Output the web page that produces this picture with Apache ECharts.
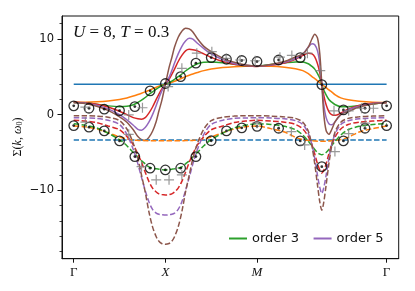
<!DOCTYPE html>
<html><head><meta charset="utf-8">
<script src="https://cdn.jsdelivr.net/npm/echarts@6/dist/echarts.min.js"></script>
<style>html,body{margin:0;padding:0;background:#fff}#c{width:415px;height:291px}</style>
</head><body><div id="c"></div>
<script>
// path coordinate along Γ→X→M→Γ (X=1, M=2, Γ=2+√2)
const kPath = [0, 0.125, 0.25, 0.375, 0.5, 0.58, 0.65, 0.70, 0.74, 0.78, 0.82, 0.86, 0.90, 0.93, 0.96, 1.0,
  1.04, 1.07, 1.10, 1.14, 1.18, 1.22, 1.26, 1.30, 1.35, 1.42, 1.50, 1.625, 1.75, 1.875, 2.0,
  2.15, 2.30, 2.42, 2.50, 2.56, 2.60, 2.63, 2.66, 2.685, 2.707, 2.729, 2.754, 2.784, 2.814, 2.854, 2.914, 2.994, 3.114, 3.264, 3.414];
const kEnds = [0, 3.414];
const kTicks = [0, 1, 2, 3.4142];
const kTickLabels = ['Γ', 'X', 'M', 'Γ'];
const yMajorTicks = [-10, 0, 10];
const yMinorTicks = [-18, -16, -14, -12, -8, -6, -4, -2, 2, 4, 6, 8, 12];

// order 1 (blue): constant
const re1 = [4.0, 4.0];
const im1 = [-3.35, -3.35];
// order 2 (orange)
const re2 = [1.6, 1.62, 1.68, 1.8, 2.0, 2.2, 2.45, 2.65, 2.82, 3.0, 3.2, 3.4, 3.6, 3.74, 3.87, 4.0,
  4.13, 4.26, 4.4, 4.6, 4.8, 5.0, 5.18, 5.35, 5.55, 5.8, 6.0, 6.2, 6.32, 6.38, 6.4,
  6.38, 6.25, 6.05, 5.8, 5.4, 5.0, 4.75, 4.45, 4.2, 4.0, 3.8, 3.55, 3.25, 3.0, 2.6, 2.2, 1.95, 1.75, 1.62, 1.6];
const im2 = [-1.5, -1.6, -1.9, -2.4, -2.95, -3.2, -3.35, -3.4, -3.42, -3.43, -3.44, -3.45, -3.45, -3.45, -3.45, -3.45,
  -3.45, -3.45, -3.45, -3.45, -3.44, -3.43, -3.42, -3.4, -3.35, -3.2, -2.95, -2.4, -1.9, -1.6, -1.5,
  -1.85, -2.3, -3.0, -3.3, -3.4, -3.45, -3.48, -3.5, -3.5, -3.5, -3.5, -3.5, -3.48, -3.45, -3.4, -3.3, -3.0, -2.3, -1.85, -1.5];
// order 3 (green)
const re3 = [1.6, 1.55, 1.35, 1.15, 1.05, 1.1, 1.3, 1.6, 1.9, 2.25, 2.65, 3.0, 3.35, 3.6, 3.8, 4.0,
  4.2, 4.4, 4.65, 5.0, 5.35, 5.75, 6.1, 6.4, 6.7, 6.9, 6.95, 6.85, 6.65, 6.45, 6.4,
  6.6, 6.8, 6.95, 6.95, 6.7, 6.35, 6.0, 5.4, 4.8, 4.0, 3.2, 2.6, 2.0, 1.65, 1.3, 1.05, 1.05, 1.2, 1.4, 1.6];
const im3 = [-1.2, -1.4, -1.75, -2.45, -3.3, -4.1, -5.0, -5.6, -6.1, -6.5, -6.9, -7.05, -7.15, -7.2, -7.25, -7.3,
  -7.25, -7.2, -7.15, -7.05, -6.9, -6.5, -6.1, -5.6, -5.0, -4.1, -3.3, -2.45, -1.75, -1.4, -1.2,
  -1.3, -1.55, -2.0, -2.7, -3.5, -4.1, -4.6, -5.0, -5.2, -5.3, -5.2, -5.0, -4.6, -4.1, -3.5, -2.7, -2.0, -1.55, -1.3, -1.2];
// order 4 (red)
const re4 = [1.65, 1.55, 1.35, 1.0, 0.45, 0.0, -0.4, -0.55, -0.6, -0.4, 0.2, 1.0, 2.0, 2.7, 3.35, 4.0,
  4.65, 5.3, 6.0, 7.0, 7.8, 8.4, 8.6, 8.55, 8.4, 8.0, 7.55, 7.0, 6.65, 6.45, 6.35,
  6.5, 6.8, 7.3, 7.8, 8.1, 8.0, 7.6, 6.7, 5.5, 4.0, 2.5, 1.3, 0.4, 0.0, -0.1, 0.2, 0.7, 1.2, 1.5, 1.6];
const im4 = [-0.75, -0.85, -1.05, -1.5, -2.0, -2.9, -4.0, -5.2, -6.3, -7.6, -8.8, -9.7, -10.2, -10.45, -10.55, -10.6,
  -10.55, -10.45, -10.2, -9.7, -8.8, -7.6, -6.3, -5.2, -4.0, -2.9, -2.0, -1.5, -1.05, -0.85, -0.75,
  -0.85, -1.0, -1.3, -1.9, -2.9, -4.0, -5.2, -6.5, -7.3, -7.7, -7.3, -6.5, -5.2, -4.0, -2.9, -1.9, -1.3, -1.0, -0.85, -0.75];
// order 5 (purple)
const re5 = [1.6, 1.5, 1.25, 0.75, 0.0, -0.7, -1.4, -1.95, -2.05, -1.7, -1.0, 0.0, 1.2, 2.2, 3.1, 4.0,
  4.9, 5.8, 6.8, 8.0, 9.0, 9.7, 10.05, 9.95, 9.4, 8.7, 8.0, 7.25, 6.75, 6.5, 6.4,
  6.55, 6.9, 7.4, 8.0, 8.9, 9.35, 9.2, 8.4, 6.7, 4.0, 1.3, -0.4, -1.2, -1.35, -0.9, 0.0, 0.6, 1.1, 1.45, 1.6];
const im5 = [-0.4, -0.45, -0.5, -0.75, -1.3, -2.6, -4.6, -6.5, -8.3, -10.0, -11.5, -12.5, -13.0, -13.15, -13.2, -13.25,
  -13.2, -13.15, -13.0, -12.5, -11.5, -10.0, -8.3, -6.5, -4.6, -2.6, -1.3, -0.75, -0.5, -0.45, -0.4,
  -0.45, -0.55, -0.8, -1.3, -2.5, -4.0, -5.8, -8.0, -9.6, -10.4, -9.6, -8.0, -5.8, -4.0, -2.5, -1.3, -0.8, -0.55, -0.45, -0.4];
// order 6 (brown)
const re6 = [1.6, 1.45, 1.1, 0.55, -0.3, -1.0, -2.0, -2.9, -3.3, -3.4, -3.0, -2.2, -0.9, 0.5, 1.8, 4.0,
  6.2, 7.5, 8.9, 10.2, 11.0, 11.4, 11.3, 10.9, 10.0, 9.0, 8.3, 7.45, 6.9, 6.55, 6.4,
  6.6, 7.0, 7.6, 8.0, 8.9, 10.0, 10.6, 10.1, 8.0, 4.0, 0.0, -2.1, -2.6, -2.0, -0.9, 0.0, 0.4, 1.0, 1.4, 1.6];
const im6 = [-0.15, -0.15, -0.2, -0.35, -0.8, -1.9, -3.8, -5.8, -8.0, -10.2, -12.8, -14.8, -16.1, -16.7, -17.0, -17.1,
  -17.0, -16.7, -16.1, -14.8, -12.8, -10.2, -8.0, -5.8, -3.8, -1.9, -0.8, -0.35, -0.2, -0.15, -0.15,
  -0.2, -0.3, -0.5, -1.0, -2.2, -4.2, -6.5, -9.3, -11.5, -12.6, -11.5, -9.3, -6.5, -4.2, -2.2, -1.0, -0.5, -0.3, -0.2, -0.15];

// reference data: circles
const circK = [0, 0.1667, 0.3333, 0.5, 0.6667, 0.8333, 1, 1.1667, 1.3333, 1.5, 1.6667, 1.8333, 2, 2.2357, 2.4714, 2.7071, 2.9428, 3.1785, 3.4142];
const circRe = [1.15, 0.84, 0.71, 0.53, 1.06, 3.13, 4.1, 5.01, 6.78, 7.52, 7.3, 7.13, 7.0, 7.2, 7.52, 3.96, 0.62, 0.84, 1.15];
const circIm = [-1.45, -1.66, -2.15, -3.47, -5.54, -7.07, -7.3, -7.07, -5.54, -3.45, -2.15, -1.75, -1.55, -1.8, -3.47, -6.86, -3.47, -1.8, -1.45];
// reference data: plus markers
const plusReK = [0.127, 0.6, 0.75, 1.03, 1.18, 1.343, 1.507, 1.663, 1.815, 1.98, 2.25, 2.38, 2.55, 2.69, 2.84, 3.0, 3.14, 3.27];
const plusRe = [0.98, -0.04, 0.9, 3.7, 6.1, 8.1, 8.3, 7.4, 7.2, 7.1, 7.57, 7.8, 8.1, 5.8, 0.5, 0.5, 0.84, 0.84];
const plusImK = [0.127, 0.6, 0.74, 0.9, 1.04, 1.18, 2.0, 2.375, 2.52, 2.85, 3.0, 3.18];
const plusIm = [-1.0, -2.6, -6.86, -8.6, -8.6, -7.95, -1.13, -2.24, -4.0, -4.88, -2.5, -1.13];

const colors = ['#1f77b4', '#ff7f0e', '#2ca02c', '#d62728', '#9467bd', '#8c564b'];
const pairs = (xs, ys) => xs.map((x, i) => [x, ys[i]]);
const dash = [5.5, 2.4];
const lineSeries = (name, xs, ys, color, dashed) => ({
  name, type: 'line', data: pairs(xs, ys), showSymbol: false, symbol: 'none', smooth: 0.3,
  lineStyle: { color, width: 1.5, type: dashed ? dash : 'solid' }, itemStyle: { color },
  xAxisIndex: 0, yAxisIndex: 0, z: 2, silent: true, animation: false
});
const reSets = [[kEnds, re1], [kPath, re2], [kPath, re3], [kPath, re4], [kPath, re5], [kPath, re6]];
const imSets = [[kEnds, im1], [kPath, im2], [kPath, im3], [kPath, im4], [kPath, im5], [kPath, im6]];
const series = [];
reSets.forEach((s, i) => series.push(lineSeries('order ' + (i + 1), s[0], s[1], colors[i], false)));
imSets.forEach((s, i) => series.push(lineSeries('im order ' + (i + 1), s[0], s[1], colors[i], true)));

const ringStyle = { color: 'rgba(0,0,0,0)', borderColor: '#000', borderWidth: 1.3 };
[circRe, circIm].forEach((ys, j) => {
  series.push({ name: 'ref' + j, type: 'scatter', data: pairs(circK, ys), symbol: 'circle', symbolSize: 9.5,
    itemStyle: ringStyle, z: 4, silent: true, animation: false });
  series.push({ name: 'dot' + j, type: 'scatter', data: pairs(circK, ys), symbol: 'circle', symbolSize: 2.8,
    itemStyle: { color: '#000' }, z: 4, silent: true, animation: false });
});
const plusPath = 'path://M5,0L5,10M0,5L10,5';
[[plusReK, plusRe], [plusImK, plusIm]].forEach((s, j) => {
  series.push({ name: 'plus' + j, type: 'scatter', data: pairs(s[0], s[1]), symbol: plusPath, symbolSize: 10,
    itemStyle: { color: 'none', borderColor: '#7f7f7f', borderWidth: 1.2 }, z: 5, silent: true, animation: false });
});

const chart = echarts.init(document.getElementById('c'), null, { renderer: 'canvas' });
chart.setOption({
  animation: false,
  backgroundColor: '#fff',
  grid: { left: 62, top: 16, right: 16.3, bottom: 32.3, show: true, borderColor: '#111', borderWidth: 1, backgroundColor: 'transparent' },
  xAxis: {
    type: 'value', min: -0.128, max: 3.546,
    axisLine: { show: true, onZero: false, lineStyle: { color: '#111', width: 1 } },
    axisTick: { show: true, customValues: kTicks, length: 4, lineStyle: { color: '#111', width: 1 } },
    axisLabel: {
      customValues: kTicks, margin: 7, color: '#111', fontSize: 12, fontFamily: 'Liberation Serif',
      formatter: v => {
        let idx = 0, best = 1e9;
        kTicks.forEach((t, i) => { if (Math.abs(t - v) < best) { best = Math.abs(t - v); idx = i; } });
        const lab = kTickLabels[idx];
        return lab === 'Γ' ? '{u|Γ}' : '{i|' + lab + '}';
      },
      rich: { u: { fontSize: 13, fontFamily: 'Liberation Serif', color: '#111' }, i: { fontSize: 13, fontStyle: 'italic', fontFamily: 'Liberation Serif', color: '#111' } }
    },
    splitLine: { show: false }
  },
  yAxis: [{
    type: 'value', min: -19, max: 13, position: 'left',
    axisLine: { show: true, onZero: false, lineStyle: { color: '#111', width: 1 } },
    axisTick: { show: true, customValues: yMajorTicks, length: 4.5, lineStyle: { color: '#111', width: 1 } },
    axisLabel: { customValues: yMajorTicks, margin: 8, color: '#111', fontSize: 11.5, fontFamily: 'DejaVu Sans',
      formatter: v => v < 0 ? '\u2212' + (-v) : String(v) },
    splitLine: { show: false }
  }, {
    type: 'value', min: -19, max: 13, position: 'left', offset: 0,
    axisLine: { show: false, onZero: false },
    axisTick: { show: true, inside: false, customValues: yMinorTicks, length: 2.5, lineStyle: { color: '#111', width: 0.8 } },
    axisLabel: { show: false },
    splitLine: { show: false }
  }],
  legend: {
    data: [{ name: 'order 3', icon: 'rect' }, { name: 'order 5', icon: 'rect' }],
    left: 229, top: 232, padding: 0, itemWidth: 18, itemHeight: 2, itemGap: 14.5,
    textStyle: { fontSize: 13, color: '#111', fontFamily: 'DejaVu Sans' },
    selectedMode: false
  },
  graphic: [
    { type: 'text', left: 73, top: 24, style: { text: '{i|U} = 8, {i|T} = 0.3', fontSize: 17, fontFamily: 'Liberation Serif', fill: '#111',
      rich: { i: { fontStyle: 'italic', fontSize: 17, fontFamily: 'Liberation Serif', fill: '#111' } } } },
    { type: 'text', x: 17.5, y: 137, rotation: Math.PI / 2,
      style: { text: 'Σ({i|k}, {i|ω}{s|0})', fontSize: 12, fontFamily: 'Liberation Serif', fill: '#111', align: 'center', verticalAlign: 'middle',
        rich: { i: { fontStyle: 'italic', fontSize: 12, fontFamily: 'Liberation Serif', fill: '#111' }, s: { fontSize: 8, fontFamily: 'Liberation Serif', fill: '#111', padding: [5, 0, 0, 0] } } } }
  ],
  series
});
</script></body></html>
